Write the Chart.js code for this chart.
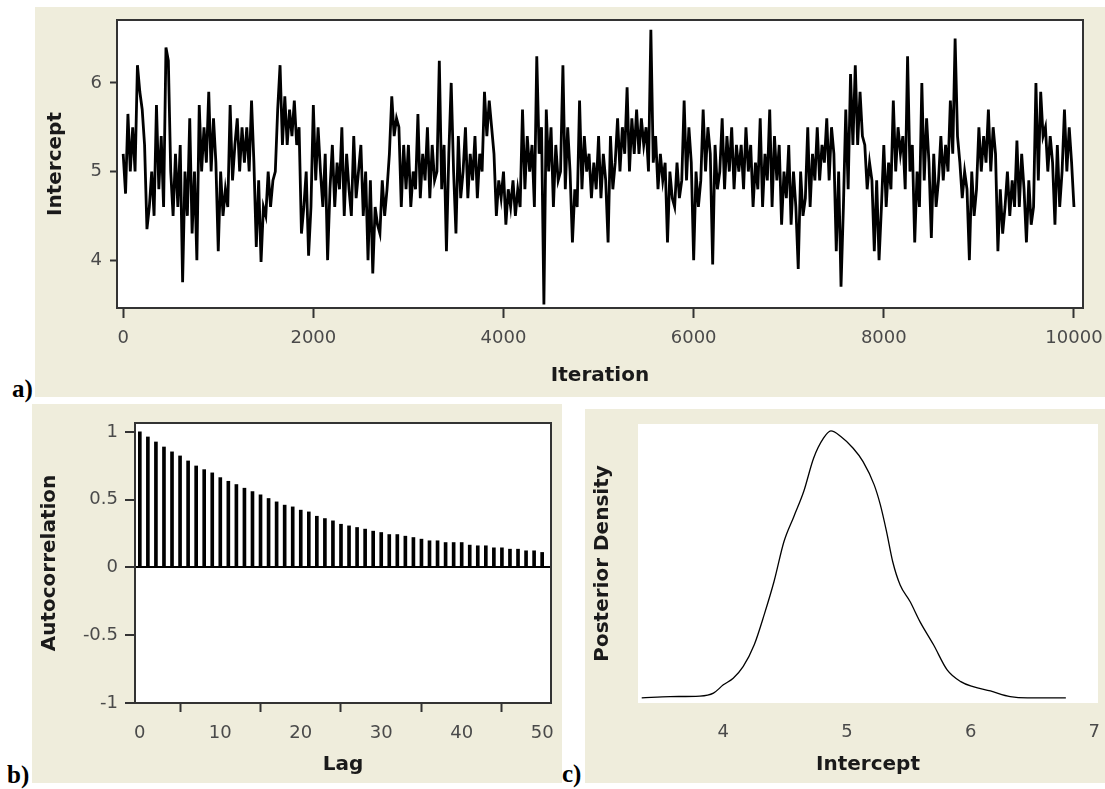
<!DOCTYPE html>
<html>
<head>
<meta charset="utf-8">
<title>Intercept - trace, autocorrelation, posterior density</title>
<script src="https://cdn.jsdelivr.net/npm/chart.js@4.4.1/dist/chart.umd.min.js"></script>
<style>
    html, body { margin: 0; padding: 0; background: #fff; }
    body { position: relative; width: 1105px; height: 789px; overflow: hidden; }
    .panel { position: absolute; background: #EFEDDC; }
    .panel canvas { display: block; }
    .tag { position: absolute; font: bold 25px "Liberation Serif", serif; line-height: 25px; color: #000; }
</style>
</head>
<body>
<div class="panel" style="left:35px;top:7px;width:1070px;height:390px">
    <canvas id="chart-trace" width="1070" height="390"></canvas>
</div>
<div class="panel" style="left:32px;top:404px;width:530px;height:379px">
    <canvas id="chart-acf" width="530" height="379"></canvas>
</div>
<div class="panel" style="left:585px;top:409px;width:520px;height:374px">
    <canvas id="chart-density" width="520" height="374"></canvas>
</div>
<div class="tag" style="left:12px;top:376px">a)</div>
<div class="tag" style="left:7px;top:762px">b)</div>
<div class="tag" style="left:562px;top:761px">c)</div>

<script>
/*
/----------------------------------------
/- data
/----------------------------------------
*/

// a) trace of Intercept, one value read every 25 iterations (0 .. 10000)
const traceStep = 25;
const traceValues = [
    5.2, 4.75, 5.65, 5.0,   5.5, 5.0, 6.2, 5.9,   5.7, 5.3, 4.35, 4.6,  5.0, 4.5, 5.75, 4.8,
    5.4, 4.6, 6.4, 6.25,    5.0, 4.5, 5.2, 4.6,   5.3, 3.75, 5.0, 4.5,  5.6, 4.3, 5.0, 4.0,
    5.75, 5.0, 5.5, 5.1,    5.9, 5.0, 5.6, 5.1,   // 1000
    4.1, 5.0, 4.5, 4.8,     4.6, 5.75, 4.9, 5.3,  5.6, 5.0, 5.5, 5.1,   5.5, 5.0, 5.8, 5.1,
    4.15, 4.9, 3.98, 4.6,   4.5, 5.0, 4.6, 4.9,   5.0, 5.7, 6.2, 5.3,   5.85, 5.3, 5.7, 5.4,
    5.8, 5.3, 5.5, 4.3,     4.6, 5.0, 4.05, 4.6,  // 2000
    5.75, 4.9, 5.5, 5.0,    4.6, 5.2, 4.0, 4.8,   5.3, 4.6, 5.1, 4.8,   5.5, 4.5, 5.2, 4.8,
    4.5, 5.4, 4.7, 5.0,     5.3, 4.5, 5.0, 4.0,   4.9, 3.85, 4.6, 4.4,  4.3, 4.9, 4.5, 4.8,
    5.2, 5.85, 5.4, 5.6,    5.5, 4.6, 5.3, 4.8,   // 3000
    5.3, 4.6, 5.0, 4.8,     5.65, 4.7, 5.2, 4.9,  5.5, 4.7, 5.3, 4.9,   5.0, 6.25, 4.8, 5.3,
    4.1, 5.2, 6.0, 5.0,     4.3, 5.4, 4.7, 5.0,   5.5, 4.7, 5.2, 4.9,   5.4, 4.7, 5.2, 5.0,
    5.9, 5.4, 5.8, 5.5,     5.2, 4.5, 4.9, 4.7,   // 4000
    5.0, 4.4, 4.8, 4.6,     4.9, 4.5, 4.8, 4.6,   5.7, 4.8, 5.4, 5.0,   5.3, 4.6, 6.3, 5.2,
    5.5, 3.5, 5.7, 5.0,     5.5, 4.6, 5.3, 4.9,   5.0, 6.2, 4.8, 5.5,   5.0, 4.2, 4.8, 4.6,
    5.8, 4.8, 5.4, 5.0,     5.2, 4.7, 5.1, 4.8,   // 5000
    5.4, 4.7, 5.2, 4.9,     4.2, 5.4, 4.8, 5.1,   5.6, 5.0, 5.5, 5.2,   5.95, 5.0, 5.6, 5.2,
    5.7, 5.2, 5.6, 5.3,     5.5, 5.0, 6.6, 5.1,   5.4, 4.8, 5.2, 4.9,   5.1, 4.2, 5.0, 4.7,
    4.6, 5.1, 4.7, 4.9,     5.8, 4.9, 5.5, 5.1,   // 6000
    4.0, 5.0, 4.6, 4.9,     5.7, 5.0, 5.5, 5.2,   3.95, 5.3, 4.8, 5.0,  5.6, 4.8, 5.4, 5.0,
    5.5, 4.8, 5.3, 5.0,     5.3, 4.8, 5.5, 5.0,   5.3, 4.6, 5.1, 4.8,   5.6, 4.6, 5.2, 4.9,
    5.7, 4.6, 5.4, 4.9,     5.3, 4.4, 5.0, 4.7,   // 7000
    5.3, 4.4, 5.0, 4.6,     3.9, 5.0, 4.5, 4.7,   5.5, 4.6, 5.2, 4.9,   5.5, 4.9, 5.3, 5.1,
    5.6, 4.9, 5.5, 5.2,     4.1, 5.0, 3.7, 4.6,   5.7, 4.8, 6.1, 5.3,   6.2, 5.3, 5.9, 5.4,
    5.3, 4.8, 5.1, 4.9,     4.1, 4.9, 4.0, 4.6,   // 8000
    5.3, 4.6, 5.1, 4.8,     5.8, 5.0, 5.5, 5.2,   5.4, 4.8, 6.3, 5.0,   5.3, 4.2, 5.0, 4.6,
    6.0, 4.9, 5.6, 5.1,     4.25, 5.2, 4.6, 4.9,  5.4, 4.9, 5.3, 5.0,   5.8, 5.2, 6.5, 5.4,
    5.1, 4.7, 5.0, 4.8,     4.0, 5.0, 4.5, 4.8,   // 9000
    5.5, 5.0, 5.4, 5.1,     5.7, 5.0, 5.5, 5.2,   4.1, 4.8, 4.3, 4.6,   5.0, 4.5, 4.9, 4.6,
    5.35, 4.6, 5.2, 4.8,    4.2, 4.9, 4.4, 4.6,   6.0, 4.9, 5.9, 5.4,   5.5, 5.0, 5.4, 5.1,
    4.4, 5.3, 4.6, 5.0,     5.7, 5.0, 5.5, 5.1,   // 10000
    4.6,
];
const traceTicks = [0, 2000, 4000, 6000, 8000, 10000];

// b) autocorrelation for lags 0 .. 50
const acfValues = [
    1.0, 0.963, 0.926, 0.889, 0.853, 0.823, 0.786, 0.749, 0.722, 0.698,
    0.663, 0.636, 0.612, 0.585, 0.560, 0.536, 0.509, 0.484, 0.460, 0.447,
    0.423, 0.410, 0.378, 0.361, 0.344, 0.319, 0.307, 0.295, 0.283, 0.268,
    0.258, 0.243, 0.243, 0.231, 0.221, 0.209, 0.197, 0.197, 0.184, 0.184,
    0.184, 0.165, 0.160, 0.160, 0.145, 0.145, 0.135, 0.135, 0.123, 0.123,
    0.111,
];

// c) posterior density of Intercept (relative height, peak = 1)
const densityX = [
    3.34, 3.57, 3.81, 3.92, 4.00, 4.08, 4.16, 4.25, 4.33, 4.41, 4.49, 4.57,
    4.65, 4.73, 4.81, 4.87, 4.95, 5.05, 5.13, 5.22, 5.27, 5.32, 5.37, 5.43,
    5.51, 5.59, 5.70, 5.81, 5.92, 6.02, 6.16, 6.32, 6.46, 6.77,
];
const densityY = [
    0, 0.005, 0.007, 0.018, 0.049, 0.074, 0.117, 0.199, 0.311, 0.436, 0.585, 0.679,
    0.773, 0.898, 0.973, 1.0, 0.979, 0.935, 0.885, 0.798, 0.723, 0.623, 0.51, 0.423,
    0.361, 0.286, 0.199, 0.105, 0.061, 0.042, 0.026, 0.005, 0, 0,
];

/*
/----------------------------------------
/- shared look
/----------------------------------------
*/
Chart.defaults.font.family = "'DejaVu Sans', sans-serif";
Chart.defaults.animation = false;

const tickColor = "#4a4a4a";
const titleColor = "#1a1a1a";
const lineColor = "#333";

// white plot area + optional frame around it
const plotFrame = {
    id: "plotFrame",
    beforeDraw(chart) {
        const { ctx, chartArea: a } = chart;
        ctx.save();
        ctx.fillStyle = "#fff";
        ctx.fillRect(a.left, a.top, a.right - a.left, a.bottom - a.top);
        ctx.restore();
    },
    afterDraw(chart, args, opts) {
        if (!opts.border) return;
        const { ctx, chartArea: a } = chart;
        ctx.save();
        ctx.strokeStyle = lineColor;
        ctx.lineWidth = 2;
        ctx.strokeRect(a.left, a.top, a.right - a.left, a.bottom - a.top);
        ctx.restore();
    },
};

// fixed axis sizes so the plot box lands where the original has it
function fixHeight(h) {
    return (scale) => {
        scale.height = h;
        scale.paddingLeft = 0;
        scale.paddingRight = 0;
    };
}
function fixWidth(w) {
    return (scale) => {
        scale.width = w;
        scale.paddingTop = 0;
        scale.paddingBottom = 0;
    };
}
const plainNumber = (value) => String(value);
const tickFont = { size: 18 };
const titleFont = { size: 20, weight: "bold" };

/*
/----------------------------------------
/- a) trace plot
/- id canvas = chart-trace
/----------------------------------------
*/
const configTrace = {
    type: "line",
    data: {
        datasets: [
            {
                data: traceValues.map((v, k) => ({ x: k * traceStep, y: v })),
                borderColor: "#000",
                borderWidth: 2.8,
                pointRadius: 0,
                tension: 0,
            },
        ],
    },
    options: {
        responsive: false,
        layout: { padding: { top: 13, right: 22, left: 0, bottom: 0 } },
        plugins: {
            legend: { display: false },
            tooltip: { enabled: false },
            plotFrame: { border: true },
        },
        scales: {
            x: {
                type: "linear",
                min: -65,
                max: 10095,
                afterBuildTicks: (scale) => {
                    scale.ticks = traceTicks.map((v) => ({ value: v }));
                },
                ticks: { color: tickColor, font: tickFont, padding: 10, maxRotation: 0, autoSkip: false, callback: plainNumber },
                grid: { drawOnChartArea: false, tickLength: 10, tickColor: lineColor, tickWidth: 2 },
                border: { display: false },
                title: { display: true, text: "Iteration", color: titleColor, font: titleFont, padding: { bottom: 9 } },
                afterFit: fixHeight(89),
            },
            y: {
                min: 3.46,
                max: 6.71,
                ticks: { stepSize: 1, includeBounds: false, color: tickColor, font: tickFont, padding: 8, callback: plainNumber },
                grid: { drawOnChartArea: false, tickLength: 7, tickColor: lineColor, tickWidth: 2 },
                border: { display: false },
                title: { display: true, text: "Intercept", color: titleColor, font: titleFont, padding: { top: 9 } },
                afterFit: fixWidth(82),
            },
        },
    },
    plugins: [plotFrame],
};
new Chart(document.getElementById("chart-trace"), configTrace);

/*
/----------------------------------------
/- b) autocorrelation
/- id canvas = chart-acf
/----------------------------------------
*/
const configAcf = {
    type: "bar",
    data: {
        datasets: [
            {
                data: acfValues.map((v, lag) => ({ x: lag, y: v })),
                backgroundColor: "#000",
                barThickness: 3,
            },
        ],
    },
    options: {
        responsive: false,
        layout: { padding: { top: 19, right: 11, left: 0, bottom: 0 } },
        plugins: {
            legend: { display: false },
            tooltip: { enabled: false },
            plotFrame: { border: true },
        },
        scales: {
            x: {
                type: "linear",
                offset: false,
                min: -0.6,
                max: 51.1,
                ticks: { stepSize: 10, includeBounds: false, color: tickColor, font: tickFont, padding: 11, maxRotation: 0, autoSkip: false, callback: plainNumber },
                grid: { drawOnChartArea: false, tickLength: 9, tickColor: lineColor, tickWidth: 2 },
                border: { display: false },
                title: { display: true, text: "Lag", color: titleColor, font: titleFont, padding: { bottom: 6 } },
                afterFit: fixHeight(80),
            },
            y: {
                min: -1,
                max: 1.066,
                ticks: { stepSize: 0.5, includeBounds: false, color: tickColor, font: tickFont, padding: 7, callback: plainNumber },
                grid: {
                    drawOnChartArea: true,
                    color: (c) => (c.tick && c.tick.value === 0 ? "#000" : "rgba(0,0,0,0)"),
                    lineWidth: 2,
                    tickLength: 10,
                    tickColor: lineColor,
                    tickWidth: 2,
                },
                border: { display: false },
                title: { display: true, text: "Autocorrelation", color: titleColor, font: titleFont, padding: { top: 6 } },
                afterFit: fixWidth(103),
            },
        },
    },
    plugins: [plotFrame],
};
new Chart(document.getElementById("chart-acf"), configAcf);

/*
/----------------------------------------
/- c) posterior density
/- id canvas = chart-density
/----------------------------------------
*/
const configDensity = {
    type: "line",
    data: {
        datasets: [
            {
                data: densityX.map((x, i) => ({ x: x, y: densityY[i] })),
                borderColor: "#000",
                borderWidth: 1.3,
                pointRadius: 0,
                cubicInterpolationMode: "monotone",
            },
        ],
    },
    options: {
        responsive: false,
        layout: { padding: { top: 15, right: 7, left: 0, bottom: 0 } },
        plugins: {
            legend: { display: false },
            tooltip: { enabled: false },
            plotFrame: { border: false },
        },
        scales: {
            x: {
                type: "linear",
                min: 3.31,
                max: 7.03,
                ticks: { stepSize: 1, includeBounds: false, color: tickColor, font: tickFont, padding: 19, maxRotation: 0, autoSkip: false, callback: plainNumber },
                grid: { display: false, drawTicks: false },
                border: { display: false },
                title: { display: true, text: "Intercept", color: titleColor, font: titleFont, padding: { bottom: 6 } },
                afterFit: fixHeight(80),
            },
            y: {
                min: -0.019,
                max: 1.026,
                ticks: { display: false },
                grid: { display: false, drawTicks: false },
                border: { display: false },
                title: { display: true, text: "Posterior Density", color: titleColor, font: titleFont, padding: { top: 6 } },
                afterFit: fixWidth(53),
            },
        },
    },
    plugins: [plotFrame],
};
new Chart(document.getElementById("chart-density"), configDensity);
</script>
</body>
</html>
